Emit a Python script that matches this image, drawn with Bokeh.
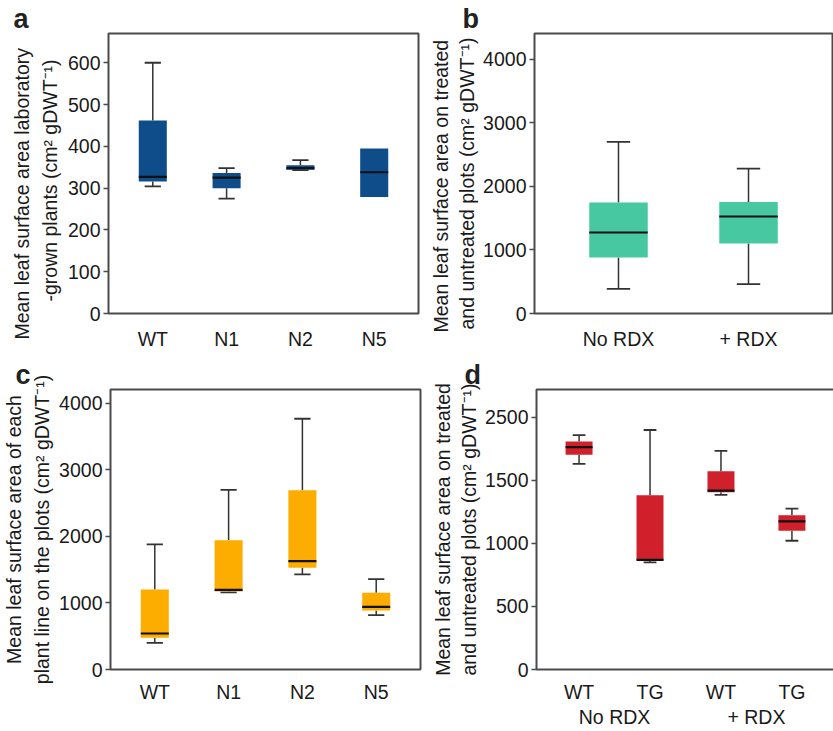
import math
from bokeh.plotting import figure
from bokeh.layouts import column, row
from bokeh.models import Range1d, FixedTicker, Title, LinearAxis
from bokeh.embed import file_html
from bokeh.resources import INLINE

FONT = "Liberation Sans"
TXT = "#1a1a1a"
FS = "19.5px"

# ---------------- data ----------------
# Panel a
a_cats = ["WT", "N1", "N2", "N5"]
a_lower = [304, 275, 343, 279]
a_q1 = [316, 300, 344, 279]
a_med = [327, 325, 348, 338]
a_q3 = [462, 336, 355, 395]
a_upper = [600, 348, 367, 395]
a_ticks = [0, 100, 200, 300, 400, 500, 600]

# Panel b
b_cats = ["No RDX", "+ RDX"]
b_lower = [388, 461]
b_q1 = [881, 1101]
b_med = [1274, 1526]
b_q3 = [1746, 1756]
b_upper = [2700, 2280]
b_ticks = [0, 1000, 2000, 3000, 4000]

# Panel c
c_cats = ["WT", "N1", "N2", "N5"]
c_lower = [401, 1160, 1429, 817]
c_q1 = [476, 1172, 1529, 887]
c_med = [541, 1198, 1629, 942]
c_q3 = [1203, 1945, 2697, 1153]
c_upper = [1880, 2702, 3770, 1358]
c_ticks = [0, 1000, 2000, 3000, 4000]

# Panel d
d_cats = ["WT", "TG", "WT", "TG"]
d_groups = ["No RDX", "+ RDX"]
d_lower = [1629, 848, 1383, 1020]
d_q1 = [1701, 864, 1404, 1099]
d_med = [1762, 869, 1417, 1174]
d_q3 = [1807, 1380, 1571, 1221]
d_upper = [1857, 1897, 1732, 1274]
d_ticks = [0, 500, 1000, 1500, 2000]
d_tick_labels = ["0", "500", "1000", "1500", "2500"]

colors = {"a": "#0e4c8a", "b": "#48c8a0", "c": "#fdad00", "d": "#d0202c"}


def make_panel(letter, cats, lower, q1, med, q3, upper, ymax, ticks, tick_labels,
               fw, bl, br, bt, bb, xpad, bw, cw, titles, toffs, loff, lstand, x_standoff):
    n = len(cats)
    p = figure(frame_width=fw, frame_height=280, min_border_left=bl, min_border_right=br,
               min_border_top=bt, min_border_bottom=bb, output_backend="svg",
               toolbar_location=None, x_range=Range1d(1 - xpad, n + xpad),
               y_range=Range1d(0, ymax), tools="")
    # panel letter as the plot title
    p.title.text = letter
    p.title.align = "left"
    p.title.offset = loff
    p.title.vertical_align = "bottom"
    p.title.standoff = lstand
    p.title.text_font = FONT
    p.title.text_font_size = "27px"
    p.title.text_font_style = "bold"
    p.title.text_color = "#222222"

    p.xgrid.visible = False
    p.ygrid.visible = False
    p.outline_line_color = "#4a4a4a"
    p.outline_line_width = 2
    p.background_fill_color = "white"
    p.border_fill_color = "white"

    xs = list(range(1, n + 1))
    # x axis
    xa = p.xaxis[0]
    xa.ticker = FixedTicker(ticks=xs)
    xa.major_label_overrides = {x: c for x, c in zip(xs, cats)}
    xa.axis_line_color = None
    xa.major_tick_line_color = None
    xa.minor_tick_line_color = None
    xa.major_tick_out = 0
    xa.major_label_standoff = x_standoff
    xa.major_label_text_font = FONT
    xa.major_label_text_font_size = FS
    xa.major_label_text_color = TXT
    # y axis
    ya = p.yaxis[0]
    ya.ticker = FixedTicker(ticks=ticks)
    if tick_labels is not None:
        ya.major_label_overrides = {t: l for t, l in zip(ticks, tick_labels)}
    ya.axis_line_color = None
    ya.major_tick_out = 5
    ya.major_tick_in = 0
    ya.major_tick_line_color = "#4a4a4a"
    ya.major_tick_line_width = 1.5
    ya.minor_tick_line_color = None
    ya.major_label_standoff = 3
    ya.major_label_text_font = FONT
    ya.major_label_text_font_size = FS
    ya.major_label_text_color = TXT

    col = colors[letter]
    wc = "#333333"
    ux = [x for x, u, t in zip(xs, upper, q3) if u > t]
    uu = [u for u, t in zip(upper, q3) if u > t]
    ut = [t for u, t in zip(upper, q3) if u > t]
    lx = [x for x, l, b in zip(xs, lower, q1) if l < b]
    ll = [l for l, b in zip(lower, q1) if l < b]
    lb = [b for l, b in zip(lower, q1) if l < b]
    p.segment(x0=ux, y0=ut, x1=ux, y1=uu, line_color=wc, line_width=1.5)
    p.segment(x0=[x - cw / 2 for x in ux], y0=uu, x1=[x + cw / 2 for x in ux], y1=uu,
              line_color=wc, line_width=1.8)
    p.segment(x0=lx, y0=lb, x1=lx, y1=ll, line_color=wc, line_width=1.5)
    p.segment(x0=[x - cw / 2 for x in lx], y0=ll, x1=[x + cw / 2 for x in lx], y1=ll,
              line_color=wc, line_width=1.8)
    p.vbar(x=xs, width=bw, bottom=q1, top=q3, fill_color=col, line_color=None)
    p.segment(x0=[x - bw / 2 for x in xs], y0=med, x1=[x + bw / 2 for x in xs], y1=med,
              line_color="#111111", line_width=2.2)

    # y-axis titles: inner line (2) first, then outer line (1)
    for t, (off, so) in zip(reversed(titles), toffs):
        if off is None:
            tt = Title(text=t, align="center", standoff=so, text_font=FONT,
                       text_font_size=FS, text_font_style="normal", text_color=TXT)
        else:
            tt = Title(text=t, align="left", offset=off, standoff=so, text_font=FONT,
                       text_font_size=FS, text_font_style="normal", text_color=TXT)
        p.add_layout(tt, "left")
    return p


unit = "(cm² gDWT⁻¹)"

pa = make_panel("a", a_cats, a_lower, a_q1, a_med, a_q3, a_upper, 670, a_ticks, None,
                310, 108, 2, 33, 36, 0.6, 0.38, 0.22,
                ["Mean leaf surface area laboratory", "-grown plants " + unit],
                [(12, 8), (-26, 0)], -95, 0, 14)
pb = make_panel("b", b_cats, b_lower, b_q1, b_med, b_q3, b_upper, 4405, b_ticks, None,
                298, 114, 1, 33, 36, 0.646, 0.45, 0.18,
                ["Mean leaf surface area on treated", "and untreated plots " + unit],
                [(-16, 6), (-19, -2)], -72, 0, 14)
pc = make_panel("c", c_cats, c_lower, c_q1, c_med, c_q3, c_upper, 4210, c_ticks, None,
                310, 108, 2, 37, 50, 0.6, 0.38, 0.22,
                ["Mean leaf surface area of each", "plant line on the plots " + unit],
                [(None, 8), (None, 0)], -95, 0, 11)
pd_ = make_panel("d", d_cats, d_lower, d_q1, d_med, d_q3, d_upper, 2218, d_ticks, d_tick_labels,
                 298, 114, 1, 37, 50, 0.6, 0.38, 0.18,
                 ["Mean leaf surface area on treated", "and untreated plots " + unit],
                 [(None, 6), (None, -2)], -72, 0, 11)
# group labels for panel d, as a second axis below
gx = [1.5 + 2 * i for i in range(len(d_groups))]
gax = LinearAxis(ticker=FixedTicker(ticks=gx),
                 major_label_overrides={x: g for x, g in zip(gx, d_groups)},
                 axis_line_color=None, major_tick_line_color=None,
                 minor_tick_line_color=None, major_tick_out=0, major_label_standoff=0,
                 major_label_text_font=FONT, major_label_text_font_size=FS,
                 major_label_text_color=TXT)
pd_.add_layout(gax, "below")

layout = column(row(pa, pb), row(pc, pd_))

open("out.html", "w").write(file_html(layout, INLINE))
